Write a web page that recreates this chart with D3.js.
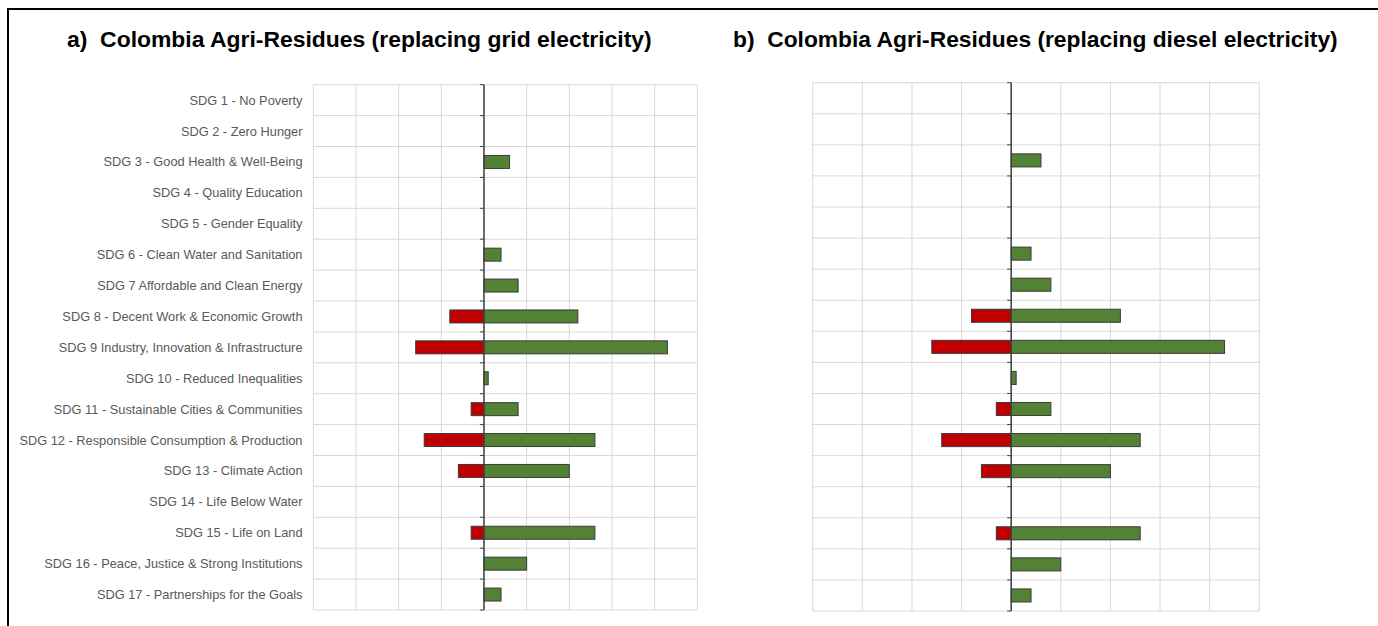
<!DOCTYPE html>
<html>
<head>
<meta charset="utf-8">
<script src="https://cdn.jsdelivr.net/npm/d3@7"></script>
<style>
  html, body { margin: 0; padding: 0; background: #ffffff; }
  svg { display: block; }
</style>
</head>
<body>
<svg id="chart" width="1378" height="626"></svg>
<script>
// SDG categories shared by both panels
const categories = [
  "SDG 1 - No Poverty",
  "SDG 2 - Zero Hunger",
  "SDG 3 - Good Health & Well-Being",
  "SDG 4 - Quality Education",
  "SDG 5 - Gender Equality",
  "SDG 6 - Clean Water and Sanitation",
  "SDG 7 Affordable and Clean Energy",
  "SDG 8 - Decent Work & Economic Growth",
  "SDG 9 Industry, Innovation & Infrastructure",
  "SDG 10 - Reduced Inequalities",
  "SDG 11 - Sustainable Cities & Communities",
  "SDG 12 - Responsible Consumption & Production",
  "SDG 13 - Climate Action",
  "SDG 14 - Life Below Water",
  "SDG 15 - Life on Land",
  "SDG 16 - Peace, Justice & Strong Institutions",
  "SDG 17 - Partnerships for the Goals"
];

// Panel a) replacing grid electricity
const gridPositive = [0, 0, 0.6, 0, 0, 0.4, 0.8, 2.2, 4.3, 0.1, 0.8, 2.6, 2.0, 0, 2.6, 1.0, 0.4];
const gridNegative = [0, 0, 0, 0, 0, 0, 0, -0.8, -1.6, 0, -0.3, -1.4, -0.6, 0, -0.3, 0, 0];

// Panel b) replacing diesel electricity
const dieselPositive = [0, 0, 0.6, 0, 0, 0.4, 0.8, 2.2, 4.3, 0.1, 0.8, 2.6, 2.0, 0, 2.6, 1.0, 0.4];
const dieselNegative = [0, 0, 0, 0, 0, 0, 0, -0.8, -1.6, 0, -0.3, -1.4, -0.6, 0, -0.3, 0, 0];

const xDomain = [-4, 5];
const xTicks = d3.range(-4, 6, 1);

const titles = [
  "a)  Colombia Agri-Residues (replacing grid electricity)",
  "b)  Colombia Agri-Residues (replacing diesel electricity)"
];

const POS_COLOR = "#548235";
const NEG_COLOR = "#c00000";
const FONT = "Liberation Sans, Arial, sans-serif";

const svg = d3.select("#chart");

// outer frame
svg.append("rect")
  .attr("x", 8).attr("y", 9)
  .attr("width", 1400).attr("height", 700)
  .attr("fill", "#ffffff")
  .attr("stroke", "#000000")
  .attr("stroke-width", 2);

const panels = [
  { title: titles[0], titleX: 67, titleW: 585, pos: gridPositive, neg: gridNegative,
    left: 313.3, right: 697.3, top: 84.7, bottom: 610, labels: true },
  { title: titles[1], titleX: 733, titleW: 605, pos: dieselPositive, neg: dieselNegative,
    left: 812.7, right: 1259.3, top: 82.7, bottom: 611, labels: false }
];

panels.forEach(p => {
  const g = svg.append("g");

  const x = d3.scaleLinear().domain(xDomain).range([p.left, p.right]);
  const y = d3.scaleBand().domain(categories).range([p.top, p.bottom])
    .paddingInner(0.58).paddingOuter(0.29);

  // title, sized to its column width
  const title = g.append("text")
    .attr("x", p.titleX).attr("y", 47)
    .attr("font-family", FONT)
    .attr("font-weight", "bold")
    .attr("font-size", 21)
    .attr("fill", "#000000")
    .style("white-space", "pre")
    .text(p.title);
  const w = title.node().getComputedTextLength();
  title.attr("font-size", 21 * p.titleW / w);

  // vertical gridlines
  g.append("g").selectAll("line").data(xTicks).join("line")
    .attr("x1", d => x(d)).attr("x2", d => x(d))
    .attr("y1", p.top).attr("y2", p.bottom)
    .attr("stroke", "#d9d9d9").attr("stroke-width", 1);

  // horizontal gridlines at category boundaries
  const bounds = d3.range(categories.length + 1).map(i => p.top + i * (p.bottom - p.top) / categories.length);
  g.append("g").selectAll("line").data(bounds).join("line")
    .attr("x1", p.left).attr("x2", p.right)
    .attr("y1", d => d).attr("y2", d => d)
    .attr("stroke", "#d9d9d9").attr("stroke-width", 1);

  // negative bars
  const negData = categories.map((c, i) => ({ c, v: p.neg[i] })).filter(d => d.v !== 0);
  g.append("g").selectAll("rect").data(negData).join("rect")
    .attr("x", d => x(d.v)).attr("width", d => x(0) - x(d.v))
    .attr("y", d => y(d.c)).attr("height", y.bandwidth())
    .attr("fill", NEG_COLOR).attr("stroke", "#3a3a3a").attr("stroke-width", 1);

  // positive bars
  const posData = categories.map((c, i) => ({ c, v: p.pos[i] })).filter(d => d.v !== 0);
  g.append("g").selectAll("rect").data(posData).join("rect")
    .attr("x", x(0)).attr("width", d => x(d.v) - x(0))
    .attr("y", d => y(d.c)).attr("height", y.bandwidth())
    .attr("fill", POS_COLOR).attr("stroke", "#3a3a3a").attr("stroke-width", 1);

  // category axis at zero with outside ticks at boundaries
  g.append("line")
    .attr("x1", x(0)).attr("x2", x(0))
    .attr("y1", p.top).attr("y2", p.bottom)
    .attr("stroke", "#404040").attr("stroke-width", 1.5);
  g.append("g").selectAll("line").data(bounds).join("line")
    .attr("x1", x(0) - 4).attr("x2", x(0))
    .attr("y1", d => d).attr("y2", d => d)
    .attr("stroke", "#404040").attr("stroke-width", 1);

  // category labels
  if (p.labels) {
    g.append("g").selectAll("text").data(categories).join("text")
      .attr("x", 302.5)
      .attr("y", d => y(d) + y.bandwidth() / 2)
      .attr("dy", "0.35em")
      .attr("text-anchor", "end")
      .attr("font-family", FONT)
      .attr("font-size", 12.8)
      .attr("fill", "#595959")
      .text(d => d);
  }
});
</script>
</body>
</html>
